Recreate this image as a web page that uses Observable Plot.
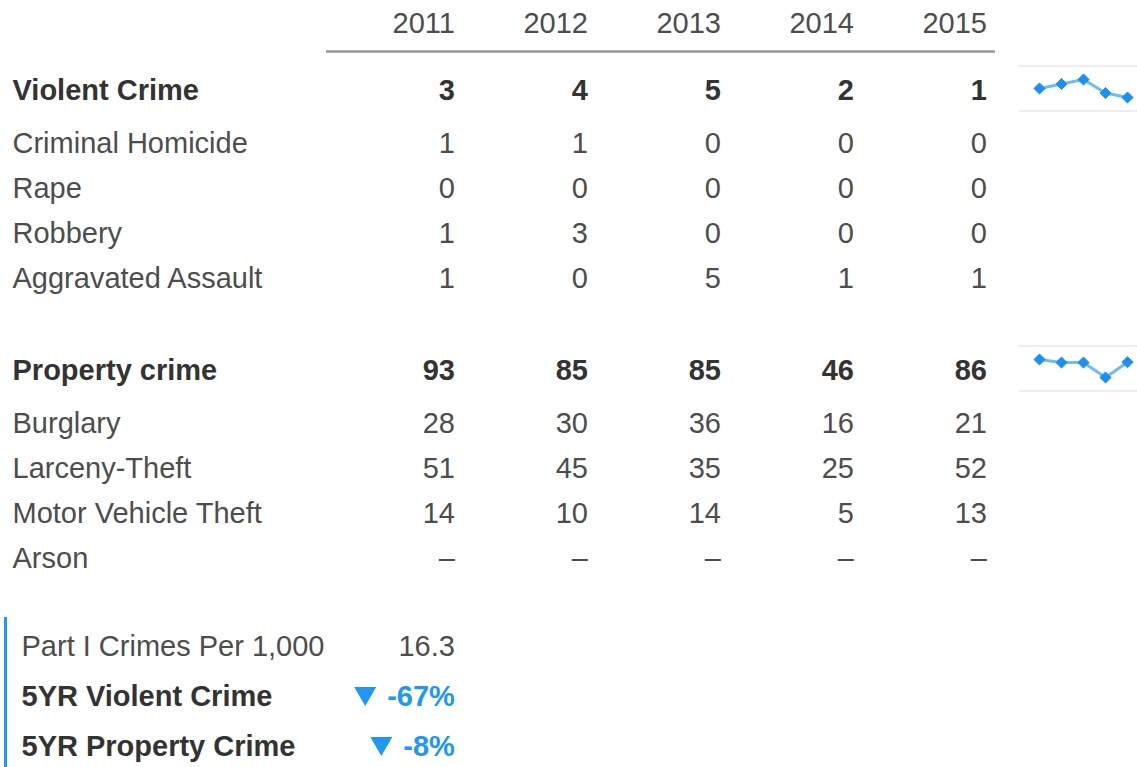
<!DOCTYPE html>
<html><head><meta charset="utf-8">
<script src="https://cdn.jsdelivr.net/npm/d3@7"></script>
<script src="https://cdn.jsdelivr.net/npm/@observablehq/plot@0.6"></script>
<style>
body{margin:0;background:#fff}
#wrap{position:relative;width:1137px;height:767px;overflow:hidden;font-family:"Helvetica Neue",Helvetica,"Liberation Sans",Arial,sans-serif}
#wrap > *{position:absolute;left:0}
</style></head><body><div id="wrap"></div>
<script>
const years = ["2011","2012","2013","2014","2015"];
const violentLabels = ["Violent Crime","Criminal Homicide","Rape","Robbery","Aggravated Assault"];
const violentValues = [[3,4,5,2,1],[1,1,0,0,0],[0,0,0,0,0],[1,3,0,0,0],[1,0,5,1,1]];
const propertyLabels = ["Property crime","Burglary","Larceny-Theft","Motor Vehicle Theft","Arson"];
const propertyValues = [[93,85,85,46,86],[28,30,36,16,21],[51,45,35,25,52],[14,10,14,5,13],[null,null,null,null,null]];
const summaryLabels = ["Part I Crimes Per 1,000","5YR Violent Crime","5YR Property Crime"];
const summaryValues = ["16.3","-67%","-8%"];
const summaryTrend = [null,"down","down"];

const FONT = '"Helvetica Neue",Helvetica,"Liberation Sans",Arial,sans-serif';
const FS = 29;
const DARK = "#333333", GREY = "#4d4d4d", BLUE = "#2196f3";
const W = 1137, ML = 326, MR = 142;
const bandHalf = (W - ML - MR) / years.length / 2;
const wrap = document.getElementById("wrap");
const measure = document.createElement("canvas").getContext("2d");
measure.font = `bold ${FS}px ${FONT}`;

function place(el, top, left = 0) { el.style.top = top + "px"; el.style.left = left + "px"; wrap.appendChild(el); }

// downward-pointing triangle symbol (d3 symbol type)
const triangleDown = {
  draw(context, size) {
    const r = Math.sqrt(size / Math.PI);
    const w = r * 2.2, h = r * 1.9;
    context.moveTo(-w, -h);
    context.lineTo(w, -h);
    context.lineTo(0, h);
    context.closePath();
  }
};

function section(labels, values, {header, height, range}) {
  const cells = labels.flatMap((lab, i) => years.map((yr, j) => ({row: lab, year: yr, value: values[i][j], lead: i === 0})));
  const domain = header ? ["header", ...labels] : labels;
  const marks = [
    Plot.text(labels.slice(0, 1), {y: d => d, text: d => d, frameAnchor: "left", textAnchor: "start", dx: 12 - ML, dy: -7.5, fontWeight: "bold", fill: DARK}),
    Plot.text(labels.slice(1), {y: d => d, text: d => d, frameAnchor: "left", textAnchor: "start", dx: 12 - ML, fill: GREY}),
    Plot.text(cells.filter(d => d.lead), {x: "year", y: "row", text: d => d.value == null ? "–" : String(d.value), textAnchor: "end", dx: bandHalf - 7, dy: -7.5, fontWeight: "bold", fill: DARK}),
    Plot.text(cells.filter(d => !d.lead), {x: "year", y: "row", text: d => d.value == null ? "–" : String(d.value), textAnchor: "end", dx: bandHalf - 7, fill: GREY})
  ];
  if (header) {
    marks.push(Plot.text(years, {x: d => d, y: () => "header", text: d => d, textAnchor: "end", dx: bandHalf - 7, dy: -30, fill: GREY}));
    marks.push(Plot.ruleY(["header"], {y: d => d, dy: -2, stroke: "#999", strokeWidth: 2.5}));
  }
  return Plot.plot({
    width: W, height, marginLeft: ML, marginRight: MR, marginTop: 0, marginBottom: 0,
    style: {fontFamily: FONT, fontSize: FS + "px", background: "transparent", overflow: "visible"},
    x: {type: "band", domain: years, padding: 0, axis: null},
    y: {type: "point", domain, range, padding: 0, axis: null},
    marks
  });
}

function spark(values) {
  const data = years.map((yr, j) => ({year: yr, value: values[j]}));
  return Plot.plot({
    width: 118, height: 43, marginLeft: 18, marginRight: 9, marginTop: 12, marginBottom: 13,
    style: {background: "transparent", overflow: "visible", borderTop: "2px solid #eeeeee", borderBottom: "2px solid #eeeeee", boxSizing: "content-box"},
    x: {type: "point", domain: years, padding: 0, axis: null},
    y: {axis: null},
    marks: [
      Plot.line(data, {x: "year", y: "value", stroke: BLUE, strokeOpacity: 0.65, strokeWidth: 3}),
      Plot.dot(data, {x: "year", y: "value", symbol: "diamond2", r: 5, fill: "#1e8ef0", stroke: "#1e8ef0", strokeWidth: 1})
    ]
  });
}

function summary() {
  const rows = summaryLabels.map((lab, i) => ({label: lab, value: summaryValues[i], trend: summaryTrend[i]}));
  const plain = rows.filter(d => !d.trend), trend = rows.filter(d => d.trend);
  const common = {y: "label", textAnchor: "end", dx: bandHalf - 7};
  return Plot.plot({
    width: W, height: 167, marginLeft: ML, marginRight: MR, marginTop: 0, marginBottom: 0,
    style: {fontFamily: FONT, fontSize: FS + "px", background: "transparent", overflow: "visible"},
    x: {type: "band", domain: years, padding: 0, axis: null},
    y: {type: "point", domain: summaryLabels, range: [45, 146], padding: 0, axis: null},
    marks: [
      Plot.text(plain, {y: "label", text: "label", frameAnchor: "left", textAnchor: "start", dx: 21 - ML, fill: GREY}),
      Plot.text(trend, {y: "label", text: "label", frameAnchor: "left", textAnchor: "start", dx: 21 - ML, fill: DARK, fontWeight: "bold"}),
      Plot.text(plain, {...common, x: () => years[0], text: "value", fill: GREY}),
      Plot.text(trend, {...common, x: () => years[0], text: "value", fill: BLUE, fontWeight: "bold"}),
      ...trend.map(d => Plot.dot([d], {
        x: () => years[0], y: "label", symbol: triangleDown, r: 5, fill: BLUE,
        dx: bandHalf - 7 - measure.measureText(d.value).width - 22
      }))
    ]
  });
}

place(section(violentLabels, violentValues, {header: true, height: 310, range: [52, 279.3]}), 0);
place(section(propertyLabels, propertyValues, {header: false, height: 270, range: [67.5, 249.3]}), 310);
place(summary(), 600);
const bar = document.createElement("div");
bar.style.cssText = "width:3px;height:150px;background:" + BLUE;
place(bar, 617, 4);
place(spark(violentValues[0]), 65, 1019);
place(spark(propertyValues[0]), 345, 1019);
</script></body></html>
